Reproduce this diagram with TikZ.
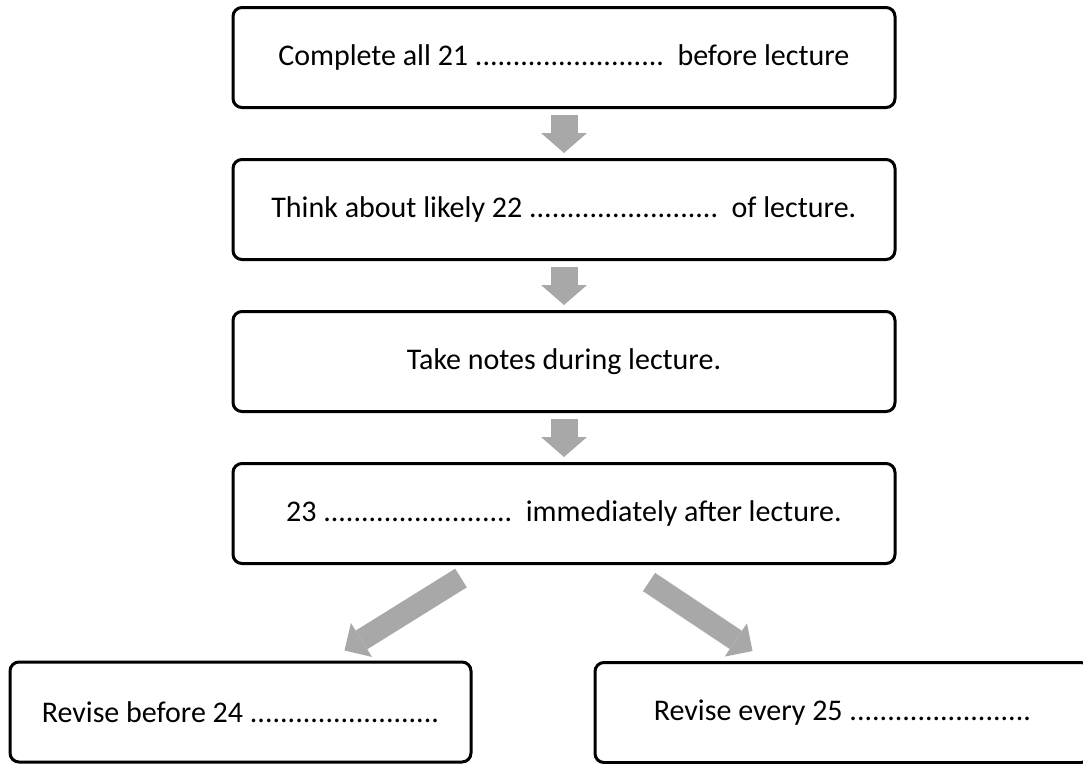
\documentclass[tikz,border=0pt]{standalone}
\usepackage{fontspec}
\setmainfont{Carlito}
\usetikzlibrary{positioning, arrows.meta}
\definecolor{arrowgray}{RGB}{168,168,168}
\tikzset{
	stepbox/.style={draw, line width=3pt, rounded corners=9pt, minimum width=662pt, minimum height=100pt, font=\fontsize{30}{35}\selectfont}, % the framed steps
	blockarrow/.style={draw=arrowgray, line width=27pt, -{Triangle[length=20pt, width=46pt, line width=0pt]}}, % fat gray arrows between steps
	sidearrow/.style={draw=arrowgray, line width=22pt, -{Triangle[length=20pt, width=40pt, line width=0pt]}}, % the two slanted ones
	node distance=152pt, % centre to centre of the steps
}

\begin{document}
\begin{tikzpicture}[x=1pt, y=-1pt]
	\useasboundingbox (0,0) rectangle (1083,763);

	\node[stepbox] (b1) at (564,57.5) {Complete all 21 .........................\ \ before lecture};
	\node[stepbox] (b2) [below of=b1] {Think about likely 22 .........................\ \ of lecture.};
	\node[stepbox] (b3) [below of=b2] {Take notes during lecture.};
	\node[stepbox] (b4) [below of=b3] {23 .........................\ \ immediately after lecture.};
	\node[stepbox, minimum width=461pt] (bl) at (240.5,712) {Revise before 24 .........................};
	\node[stepbox, minimum width=495pt] (br) at (842.5,712.5) {Revise every 25 ........................};

	\draw[blockarrow, shorten <=6pt, shorten >=5pt] (b1) -- (b2);
	\draw[blockarrow, shorten <=6pt, shorten >=5pt] (b2) -- (b3);
	\draw[blockarrow, shorten <=6pt, shorten >=5pt] (b3) -- (b4);
	\draw[sidearrow] ([xshift=-103pt, yshift=-13pt]b4.south) -- ([xshift=104pt, yshift=10pt]bl.north);
	\draw[sidearrow] ([xshift=85pt, yshift=-17pt]b4.south) -- ([xshift=-90pt, yshift=10pt]br.north);
\end{tikzpicture}
\end{document}
